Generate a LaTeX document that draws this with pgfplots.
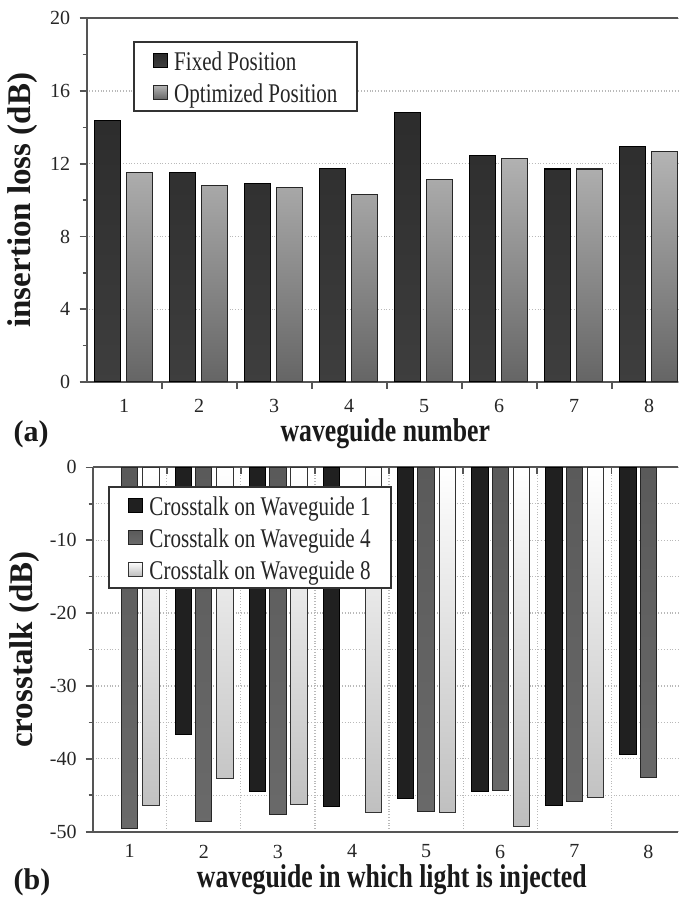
\documentclass[border=0pt]{standalone}
\usepackage{fontspec}
\setmainfont{Liberation Serif}
\newfontfamily\condfont{Liberation Serif}[FakeStretch=0.78]
\usepackage{pgfplots}
\pgfplotsset{compat=1.18}
\definecolor{axisgray}{HTML}{555555}
\definecolor{fixedtop}{HTML}{2C2C2C}
\definecolor{fixedbot}{HTML}{3E3E3E}
\definecolor{opttop}{HTML}{B4B4B4}
\definecolor{optbot}{HTML}{656565}
\definecolor{wgone}{HTML}{202020}
\definecolor{wgfourtop}{HTML}{5A5A5A}
\definecolor{wgfourbot}{HTML}{6A6A6A}
\definecolor{wgeightbot}{HTML}{BDBDBD}
\pgfplotsset{
  swatch/.style={legend image code/.code={\path (0pt,0pt); \draw[##1] (1.75pt,-3.5pt) rectangle (8.75pt,3.5pt);}},
  panel/.style={
    scale only axis,
    clip mode=individual,
    /pgf/number format/assume math mode=true,
    ticklabel style={font=\fontsize{10pt}{12pt}\selectfont, text=black!85},
    ylabel style={font=\bfseries\fontsize{16.5pt}{19pt}\selectfont, text=black!90},
    xlabel style={font=\condfont\bfseries\fontsize{16.5pt}{19pt}\selectfont, text=black!90, anchor=center, inner sep=0pt},
    axis x line*=box, axis y line*=left,
    axis line style={-, draw=axisgray, line width=1pt},
    xmin=0.5,
    xtick={1.5,2.5,...,7.5}, xticklabels={},
    extra x ticks={1,2,3,4,5,6,7,8},
    extra x tick labels={1,2,3,4,5,6,7,8},
    extra x tick style={tick style={draw=none}, grid=none},
    minor y tick num=1,
    major tick length=3.5pt, minor tick length=2pt,
    tick style={draw=axisgray, line width=0.8pt},
    grid style={densely dotted, draw=gray!55, line width=0.6pt},
    legend cell align=left,
    legend style={draw=black!80, line width=1pt, fill=white,
      font=\condfont\fontsize{13.5pt}{16pt}\selectfont, text=black!85,
      inner xsep=8pt, inner ysep=1.75pt, row sep=1pt,
      nodes={inner ysep=1.5pt, text height=11pt, text depth=1pt},
      /tikz/every odd column/.append style={column sep=1pt}},
  },
}
\begin{document}
\begin{tikzpicture}
\useasboundingbox (0,0) rectangle (339.5pt,450pt);
% ---------------- panel (a)
\begin{axis}[panel,
  at={(43.35pt,259pt)}, anchor=south west,
  width=295.65pt, height=181.85pt,
  xmax=8.384, ymin=0, ymax=20,
  ytick={0,4,...,20},
  ymajorgrids,
  tick align=outside,
  xtick pos=left,
  xticklabel shift=1.5pt,
  yticklabel shift=1.2pt,
  xlabel={waveguide number},
  xlabel style={at={(axis description cs:0.505,-0.141)}},
  ylabel={insertion loss (dB)},
  ylabel style={at={(axis description cs:-0.1077,0.5)}, anchor=center},
  legend style={at={(0.0775,0.9376)}, anchor=north west},
]
\addplot[ybar, bar width=0.345, bar shift=-0.225, swatch, draw=black, line width=0.6pt,
  top color=fixedtop, bottom color=fixedbot]
  coordinates {(1,14.39) (2,11.53) (3,10.90) (4,11.73) (5,14.83) (6,12.46) (7,11.71) (8,12.93)};
\addlegendentry{Fixed Position}
\addplot[ybar, bar width=0.345, bar shift=0.2, swatch, draw=black!85, line width=0.6pt,
  top color=opttop, bottom color=optbot]
  coordinates {(1,11.50) (2,10.81) (3,10.68) (4,10.32) (5,11.12) (6,12.31) (7,11.71) (8,12.69)};
\addlegendentry{Optimized Position}
\node[font=\bfseries\fontsize{15pt}{18pt}\selectfont, text=black!90] at (axis description cs:-0.094,-0.143) {(a)};
\end{axis}
% ---------------- panel (b)
\begin{axis}[panel,
  at={(46.35pt,34.15pt)}, anchor=south west,
  width=292.65pt, height=182.2pt,
  xmax=8.399, ymin=-50, ymax=0,
  ytick={-50,-40,...,0},
  ymajorgrids, yminorgrids, xmajorgrids,
  xtick pos=right, xticklabel pos=left,
  xtick align=inside, ytick align=outside,
  xticklabel shift=3pt,
  yticklabel shift=1pt,
  xlabel={waveguide in which light is injected},
  xlabel style={at={(axis description cs:0.511,-0.1325)}},
  ylabel={crosstalk (dB)},
  ylabel style={at={(axis description cs:-0.1157,0.5)}, anchor=center},
  legend style={at={(0.0261,0.9498)}, anchor=north west},
]
\addplot[ybar, bar width=0.22, bar shift=-0.275, swatch, draw=black, line width=0.5pt,
  top color=wgone, bottom color=wgone]
  coordinates {(2,-36.7) (3,-44.5) (4,-46.5) (5,-45.4) (6,-44.5) (7,-46.4) (8,-39.4)};
\addlegendentry{Crosstalk on Waveguide 1}
\addplot[ybar, bar width=0.22, bar shift=0, swatch, draw=black!85, line width=0.5pt,
  top color=wgfourtop, bottom color=wgfourbot]
  coordinates {(1,-49.6) (2,-48.6) (3,-47.7) (5,-47.2) (6,-44.4) (7,-45.8) (8,-42.5)};
\addlegendentry{Crosstalk on Waveguide 4}
\addplot[ybar, bar width=0.22, bar shift=0.285, swatch, draw=black!80, line width=0.5pt,
  top color=white, bottom color=wgeightbot]
  coordinates {(1,-46.35) (2,-42.7) (3,-46.3) (4,-47.35) (5,-47.35) (6,-49.3) (7,-45.3)};
\addlegendentry{Crosstalk on Waveguide 8}
\node[font=\bfseries\fontsize{15pt}{18pt}\selectfont, text=black!90] at (axis description cs:-0.1037,-0.138) {(b)};
\end{axis}
\end{tikzpicture}
\end{document}
